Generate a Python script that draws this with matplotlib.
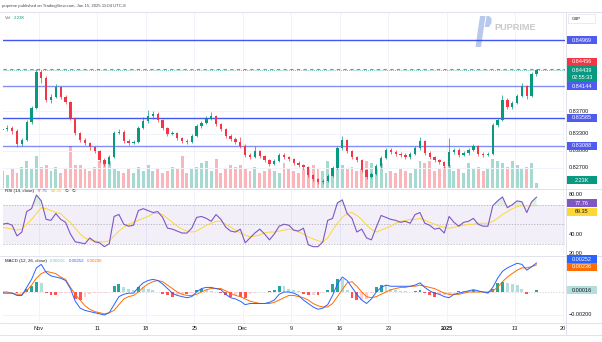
import matplotlib
matplotlib.use('Agg')
import matplotlib.pyplot as plt
import numpy as np
from matplotlib.patches import Polygon, Rectangle
from matplotlib.lines import Line2D
import matplotlib.transforms as mtransforms

plt.rcParams['font.family'] = ['Liberation Sans', 'DejaVu Sans']

W, H = 602, 342

# ---------------- data ----------------
first_open = 0.83368
close = [0.83385, 0.83403, 0.83350, 0.83119, 0.83190, 0.83510, 0.83759, 0.84400, 0.84293, 0.83901,
         0.83955, 0.84133, 0.83955, 0.83866, 0.83581, 0.83314, 0.83190, 0.83136, 0.83065, 0.82994,
         0.82834, 0.82763, 0.82887, 0.83314, 0.83332, 0.83172, 0.83136, 0.83154, 0.83403, 0.83528,
         0.83617, 0.83652, 0.83545, 0.83403, 0.83296, 0.83314, 0.83225, 0.83172, 0.83154, 0.83261,
         0.83439, 0.83492, 0.83563, 0.83617, 0.83474, 0.83385, 0.83261, 0.83207, 0.83154, 0.83083,
         0.82923, 0.82887, 0.82994, 0.82905, 0.82834, 0.82763, 0.82816, 0.82923, 0.82887, 0.82852,
         0.82780, 0.82745, 0.82709, 0.82567, 0.82496, 0.82442, 0.82460, 0.82549, 0.82691, 0.83047,
         0.83190, 0.82994, 0.82887, 0.82834, 0.82656, 0.82531, 0.82585, 0.82727, 0.82869, 0.83012,
         0.82976, 0.82941, 0.82923, 0.82887, 0.82941, 0.83047, 0.83172, 0.82958, 0.82887, 0.82834,
         0.82798, 0.82727, 0.82976, 0.83012, 0.82923, 0.82958, 0.83012, 0.83083, 0.82941, 0.82923,
         0.82941, 0.83457, 0.83545, 0.83901, 0.83777, 0.83848, 0.83972, 0.84151, 0.83972, 0.84364,
         0.84439]
high = [0.83430, 0.83450, 0.83440, 0.83380, 0.83230, 0.83540, 0.83800, 0.84456, 0.84430, 0.84320,
        0.84000, 0.84180, 0.84150, 0.83990, 0.83890, 0.83600, 0.83340, 0.83230, 0.83160, 0.83090,
        0.83020, 0.82870, 0.82920, 0.83350, 0.83380, 0.83360, 0.83200, 0.83190, 0.83430, 0.83600,
        0.83723, 0.83700, 0.83680, 0.83570, 0.83420, 0.83350, 0.83340, 0.83250, 0.83200, 0.83290,
        0.83470, 0.83530, 0.83620, 0.83680, 0.83640, 0.83500, 0.83410, 0.83290, 0.83240, 0.83250,
        0.83110, 0.82950, 0.83080, 0.83020, 0.82930, 0.82860, 0.82850, 0.82960, 0.82950, 0.82910,
        0.82870, 0.82810, 0.82770, 0.82730, 0.82590, 0.82520, 0.82490, 0.82580, 0.82720, 0.83080,
        0.83260, 0.83210, 0.83020, 0.82910, 0.82860, 0.82680, 0.82620, 0.82760, 0.82900, 0.83050,
        0.83040, 0.83010, 0.82980, 0.82950, 0.82970, 0.83080, 0.83250, 0.83190, 0.82990, 0.82910,
        0.82860, 0.82820, 0.83230, 0.83050, 0.83040, 0.82990, 0.83050, 0.83120, 0.83100, 0.82970,
        0.82970, 0.83490, 0.83580, 0.83990, 0.83930, 0.83880, 0.84010, 0.84210, 0.84170, 0.84400,
        0.84456]
low = [0.83330, 0.83350, 0.83300, 0.83060, 0.83090, 0.83170, 0.83480, 0.83740, 0.84200, 0.83860,
       0.83850, 0.83930, 0.83920, 0.83830, 0.83540, 0.83280, 0.83150, 0.83100, 0.83020, 0.82960,
       0.82800, 0.82720, 0.82740, 0.82870, 0.83290, 0.83140, 0.83100, 0.83110, 0.83130, 0.83390,
       0.83500, 0.83560, 0.83510, 0.83370, 0.83260, 0.83270, 0.83190, 0.83130, 0.83110, 0.83130,
       0.83240, 0.83410, 0.83470, 0.83540, 0.83440, 0.83350, 0.83230, 0.83170, 0.83120, 0.83050,
       0.82890, 0.82850, 0.82870, 0.82870, 0.82800, 0.82730, 0.82740, 0.82800, 0.82860, 0.82820,
       0.82750, 0.82710, 0.82680, 0.82530, 0.82460, 0.82400, 0.82410, 0.82440, 0.82530, 0.82670,
       0.83020, 0.82960, 0.82850, 0.82800, 0.82620, 0.82500, 0.82510, 0.82560, 0.82700, 0.82850,
       0.82940, 0.82910, 0.82890, 0.82860, 0.82860, 0.82920, 0.83020, 0.82930, 0.82850, 0.82800,
       0.82760, 0.82690, 0.82710, 0.82940, 0.82890, 0.82900, 0.82930, 0.82990, 0.82910, 0.82890,
       0.82900, 0.82920, 0.83420, 0.83520, 0.83740, 0.83740, 0.83830, 0.83950, 0.83920, 0.83950,
       0.84330]
volume_k = [8, 6, 9, 7, 10, 13, 9, 15, 10, 11,
            8, 10, 7, 9, 20, 11, 11, 9, 8, 10,
            13, 12, 13, 9, 8, 7, 9, 7, 10, 8,
            11, 8, 9, 7, 8, 10, 9, 15, 7, 9,
            10, 12, 13, 8, 14, 7, 9, 11, 10, 11,
            9, 8, 10, 7, 8, 9, 8, 7, 12, 9,
            8, 7, 9, 10, 11, 9, 8, 13, 9, 12,
            11, 9, 10, 8, 9, 13, 12, 9, 12, 7,
            8, 7, 9, 8, 7, 9, 13, 12, 13, 8,
            9, 10, 11, 8, 9, 7, 12, 9, 10, 8,
            9, 14, 13, 12, 10, 13, 11, 9, 10, 12,
            2.23]
rsi = [50, 51, 49, 38, 42, 63, 66, 80, 74, 55,
       54, 61, 55, 52, 40, 32, 31, 30, 36, 32,
       31, 27, 30, 58, 60, 50, 48, 49, 64, 66,
       64, 62, 63, 57, 46, 45, 43, 41, 41, 46,
       57, 58, 56, 53, 60, 55, 47, 43, 42, 45,
       31, 36, 41, 45, 40, 34, 40, 48, 50, 49,
       44, 43, 46, 29, 27, 27, 32, 54, 56, 72,
       75, 61, 56, 42, 45, 36, 34, 47, 59, 57,
       55, 54, 52, 53, 51, 60, 62, 51, 49, 45,
       46, 41, 58, 52, 48, 52, 53, 56, 50, 48,
       48, 69, 74, 78, 67, 70, 74, 73, 62, 73,
       77.76]
rsi_ma = [47, 46, 45, 44, 45, 50, 55, 61, 67, 66,
          64, 62, 61, 56, 52, 46, 40, 36, 34, 33,
          32, 32, 33, 38, 43, 47, 50, 52, 54, 56,
          58, 61, 61, 60, 56, 52, 48, 45, 43, 42,
          43, 46, 49, 51, 53, 53, 50, 47, 44, 41,
          39, 37, 38, 39, 41, 42, 42, 43, 44, 45,
          44, 42, 40, 37, 35, 33, 32, 36, 44, 51,
          57, 61, 62, 59, 55, 49, 45, 42, 44, 46,
          48, 51, 53, 54, 55, 55, 56, 54, 52, 50,
          48, 47, 46, 47, 48, 49, 50, 50, 51, 51,
          51, 53, 56, 60, 63, 66, 68, 69, 69, 69,
          69.35]
macd = [-0.0001, -0.0001, -0.0001, -0.0003, -0.0003, 0.0004, 0.0011, 0.0021, 0.0024, 0.0017,
        0.0014, 0.0013, 0.0012, 0.0010, 0.0003, -0.0008, -0.0014, -0.0016, -0.0017, -0.0018,
        -0.0019, -0.0020, -0.0018, -0.0011, -0.0004, -0.0002, -0.0001, -0.0001, 0.0004, 0.0008,
        0.0010, 0.0011, 0.0010, 0.0007, 0.0003, -0.0001, -0.0003, -0.0004, -0.0005, -0.0004,
        0.0000, 0.0003, 0.0004, 0.0004, 0.0003, 0.0002, -0.0002, -0.0005, -0.0006, -0.0008,
        -0.0011, -0.0010, -0.0010, -0.0010, -0.0010, -0.0009, -0.0007, -0.0002, 0.0000, 0.0000,
        -0.0001, -0.0003, -0.0007, -0.0010, -0.0013, -0.0015, -0.0014, -0.0011, -0.0003, 0.0007,
        0.0013, 0.0010, 0.0004, -0.0002, -0.0007, -0.0010, -0.0006, 0.0000, 0.0004, 0.0006,
        0.0005, 0.0005, 0.0005, 0.0005, 0.0005, 0.0006, 0.0008, 0.0004, 0.0001, -0.0001,
        -0.0002, -0.0004, -0.0005, -0.0002, -0.0001, 0.0000, 0.0001, 0.0002, 0.0001, 0.0000,
        -0.0001, 0.0004, 0.0012, 0.0018, 0.0021, 0.0023, 0.0025, 0.0024, 0.0019, 0.0022,
        0.00252]
signal = [0.0000, 0.0000, -0.0001, -0.0002, -0.0002, 0.0001, 0.0006, 0.0012, 0.0016, 0.0018,
          0.0017, 0.0016, 0.0013, 0.0011, 0.0004, -0.0002, -0.0007, -0.0012, -0.0015, -0.0017,
          -0.0018, -0.0019, -0.0018, -0.0016, -0.0011, -0.0006, -0.0004, -0.0003, 0.0000, 0.0004,
          0.0007, 0.0009, 0.0010, 0.0009, 0.0006, 0.0003, 0.0000, -0.0002, -0.0003, -0.0003,
          -0.0002, 0.0000, 0.0002, 0.0003, 0.0003, 0.0003, 0.0001, -0.0001, -0.0003, -0.0004,
          -0.0006, -0.0008, -0.0009, -0.0010, -0.0010, -0.0010, -0.0009, -0.0007, -0.0005, -0.0003,
          -0.0003, -0.0004, -0.0005, -0.0007, -0.0010, -0.0012, -0.0013, -0.0013, -0.0010, -0.0004,
          0.0002, 0.0008, 0.0009, 0.0005, 0.0000, -0.0004, -0.0005, -0.0004, -0.0002, 0.0000,
          0.0002, 0.0003, 0.0004, 0.0004, 0.0005, 0.0005, 0.0006, 0.0005, 0.0004, 0.0003,
          0.0001, -0.0001, -0.0002, -0.0002, -0.0002, -0.0001, 0.0000, 0.0000, 0.0000, 0.0000,
          0.0000, 0.0001, 0.0004, 0.0009, 0.0013, 0.0016, 0.0019, 0.0021, 0.0021, 0.0022,
          0.00236]

levels = [0.84969, 0.84144, 0.83585, 0.83088]
level_alpha = [0.9, 0.6, 0.9, 0.6]
session_high = 0.84456
last_price = 0.84439
countdown = '02:55:33'
price_ticks = [0.82700, 0.83000, 0.83300, 0.83700]
date_labels = ['Nov', '11', '18', '25', 'Dec', '9', '16', '23', '2025', '13', '20']
date_days = [4, 10, 15, 20, 25, 30, 35, 40, 46, 53, 58]   # trading-day index
rsi_ticks = [80, 40, 20]
macd_ticks = [-0.002]
header = 'puprime published on TradingView.com, Jan 15, 2025 11:04 UTC-8'

# ---------------- derived ----------------
n = len(close)
x = 0.25 + 0.5 * np.arange(n)
opn = np.array([first_open] + close[:-1])
cl = np.array(close)
hi = np.array(high)
lo = np.array(low)
up = cl >= opn
UP, DN = '#089981', '#F23645'
hist = np.array(macd) - np.array(signal)

PX_PER_DAY = 9.71

def rect(l, t, r, b):
    return [l / W, 1 - b / H, (r - l) / W, (b - t) / H]

fig = plt.figure(figsize=(W / 100, H / 100), dpi=100)
fig.patch.set_facecolor('white')
renderer = fig.canvas.get_renderer()

xlim = (3 / PX_PER_DAY, 565 / PX_PER_DAY)

ax_vol = fig.add_axes(rect(3, 12, 565, 188))
ax = fig.add_axes(rect(3, 12, 565, 188))
ax_rsi = fig.add_axes(rect(3, 189, 565, 255))
ax_macd = fig.add_axes(rect(3, 256, 565, 322))

for a in (ax_vol, ax, ax_rsi, ax_macd):
    a.set_xlim(*xlim)
    a.set_xticks([])
    a.set_yticks([])
    for s in a.spines.values():
        s.set_visible(False)
ax.patch.set_alpha(0)
ax_vol.set_zorder(0)
ax.set_zorder(1)

ax.set_ylim(0.84969 - 148 / 5620, 0.84969 + 28 / 5620)
ax_vol.set_ylim(0, 19 * 176 / 40)
ax_rsi.set_ylim(50 - 30.75 / 0.975, 50 + 35.25 / 0.975)
ax_macd.set_ylim(-30 / 11500, 36 / 11500)

GRID = '#f0f3fa'
for a in (ax_vol, ax_rsi, ax_macd):
    for d in date_days:
        a.axvline(d, color=GRID, lw=0.7, zorder=0)
for p in price_ticks:
    ax.axhline(p, color=GRID, lw=0.7, zorder=0)

# volume
vcol = [UP if u else DN for u in up]
ax_vol.bar(x, volume_k, width=0.3, color=vcol, alpha=0.36, linewidth=0, zorder=1)

# level lines
for lv, al in zip(levels, level_alpha):
    ax.axhline(lv, color='#2f44f0', lw=1.0, alpha=al, zorder=2)
ax.axhline(session_high, color=DN, lw=0.8, ls=(0, (3, 3)), alpha=0.8, zorder=2)
ax.axhline(last_price, color=UP, lw=0.6, ls=(0, (1, 1.5)), alpha=0.8, zorder=2)

# candles
ccol = np.where(up, UP, DN)
ax.vlines(x, lo, hi, colors=ccol, lw=0.5, zorder=3)
body_lo = np.minimum(opn, cl)
body_h = np.maximum(np.abs(cl - opn), 0.00004)
ax.bar(x, body_h, bottom=body_lo, width=0.24, color=ccol, linewidth=0, zorder=4)

# RSI
ax_rsi.axhspan(30, 70, color='#7E57C2', alpha=0.09, lw=0, zorder=0)
for lvl in (70, 50, 30):
    ax_rsi.axhline(lvl, color='#787B86', lw=0.5, ls=(0, (2, 2)), alpha=0.6, zorder=1)
r = np.array(rsi)
ax_rsi.fill_between(x, r, 70, where=r > 70, interpolate=True, color='#4CAF50', alpha=0.18, lw=0, zorder=1)
ax_rsi.plot(x, rsi_ma, color='#FDD835', lw=0.7, zorder=2)
ax_rsi.plot(x, rsi, color='#7E57C2', lw=0.8, zorder=3)

# MACD
hcol = []
for i, h in enumerate(hist):
    prev = hist[i - 1] if i > 0 else 0
    if h >= 0:
        hcol.append('#26A69A' if h > prev else '#B2DFDB')
    else:
        hcol.append('#FF5252' if h < prev else '#FFCDD2')
ax_macd.axhline(0, color='#787B86', lw=0.5, ls=(0, (2, 2)), alpha=0.4, zorder=0)
for t in macd_ticks:
    ax_macd.axhline(t, color=GRID, lw=0.7, zorder=0)
ax_macd.bar(x, hist, width=0.3, color=hcol, linewidth=0, zorder=1)
ax_macd.plot(x, signal, color='#FF6D00', lw=0.7, zorder=2)
ax_macd.plot(x, macd, color='#2962FF', lw=0.7, zorder=3)

# ---------------- frame lines ----------------
SEP = '#e0e3eb'
for yy in (11.5, 188.5, 255.5, 322.5, 334.5):
    fig.add_artist(Line2D([0, 1], [1 - yy / H, 1 - yy / H], color=SEP, lw=0.7, transform=fig.transFigure))
fig.add_artist(Line2D([565.5 / W, 565.5 / W], [1 - 11.5 / H, 1 - 334.5 / H], color=SEP, lw=0.7,
                      transform=fig.transFigure))

# ---------------- text ----------------
TXT = '#131722'
FS = 4.0
HFS = 3.2

def ypx(a, v):
    return H - a.transData.transform((xlim[0], v))[1]

def box(yc, text, fc, tc, h=8, zorder=3):
    fig.add_artist(Rectangle((567 / W, 1 - (yc + h / 2) / H), 30 / W, h / H, transform=fig.transFigure,
                             fc=fc, ec='none', zorder=zorder))
    fig.text(582 / W, 1 - yc / H, text, ha='center', va='center', fontsize=FS, color=tc, zorder=zorder + 1)

def tick(yc, text):
    fig.text(569 / W, 1 - yc / H, text, ha='left', va='center', fontsize=FS, color=TXT, zorder=1)

def seq_text(x0, yc, pieces, fs=HFS, gap=3.0):
    xx = x0
    for s, c in pieces:
        t = fig.text(xx / W, 1 - yc / H, s, fontsize=fs, color=c, va='center', ha='left')
        xx += t.get_window_extent(renderer).width + gap

fig.text(2 / W, 1 - 6.5 / H, header, fontsize=3.1, color='#4a4a4a', va='center', ha='left')
seq_text(5, 18, [('Vol', '#6a6d78'), (f'{volume_k[-1]:.2f}K', UP)])

# price scale
for p in price_ticks:
    tick(ypx(ax, p), f'{p:.5f}')
for lv in levels:
    box(ypx(ax, lv), f'{lv:.5f}', '#4F5BEF', 'white')
box(ypx(ax, session_high) - 7, f'{session_high:.5f}', DN, 'white')
yl = ypx(ax, last_price) + 4
fig.add_artist(Rectangle((567 / W, 1 - (yl + 8) / H), 30 / W, 16 / H, transform=fig.transFigure,
                         fc=UP, ec='none', zorder=3))
fig.text(582 / W, 1 - (yl - 3.5) / H, f'{last_price:.5f}', ha='center', va='center', fontsize=FS,
         color='white', zorder=4)
fig.text(582 / W, 1 - (yl + 3.5) / H, countdown, ha='center', va='center', fontsize=FS, color='white', zorder=4)
box(ypx(ax_vol, volume_k[-1]) - 3, f'{volume_k[-1]:.2f}K', UP, 'white')

# currency box
fig.add_artist(Rectangle((568 / W, 1 - 23 / H), 27 / W, 9 / H, transform=fig.transFigure,
                         fc='white', ec='#e0e3eb', lw=0.5, zorder=3))
fig.text(572 / W, 1 - 18.5 / H, 'GBP', fontsize=3.2, color=TXT, va='center', zorder=4)

# RSI scale
for t in rsi_ticks:
    tick(ypx(ax_rsi, t), f'{t:.2f}')
box(ypx(ax_rsi, rsi[-1]) + 6, f'{rsi[-1]:.2f}', '#7E57C2', 'white')
box(ypx(ax_rsi, rsi_ma[-1]) + 6.5, f'{rsi_ma[-1]:.2f}', '#FDD835', TXT)

# MACD scale
for t in macd_ticks:
    tick(ypx(ax_macd, t), f'{t:.5f}'.replace('-', '\u2212'))
box(ypx(ax_macd, macd[-1]) - 4, f'{macd[-1]:.5f}', '#2962FF', 'white')
box(ypx(ax_macd, signal[-1]) + 2, f'{signal[-1]:.5f}', '#FF6D00', 'white')
box(ypx(ax_macd, hist[-1]), f'{hist[-1]:.5f}', '#B2DFDB', TXT)

# indicator headers
seq_text(5, 191, [('RSI (14, close)', TXT), (f'{rsi[-1]:.2f}', '#7E57C2'),
                  (f'{rsi_ma[-1]:.2f}', '#E8C400'), ('\u2205', TXT), ('\u2205', TXT)])
seq_text(5, 260.7, [('MACD (12, 26, close)', TXT), (f'{hist[-1]:.5f}', '#6cc7bb'),
                    (f'{macd[-1]:.5f}', '#2962FF'), (f'{signal[-1]:.5f}', '#FF6D00')])

# date axis
tr = mtransforms.blended_transform_factory(ax_macd.transData, fig.transFigure)
for d, lab in zip(date_days, date_labels):
    ax_macd.text(d, 1 - 328 / H, lab, transform=tr, ha='center', va='center', fontsize=FS,
                 color=TXT, fontweight='bold' if lab == '2025' else 'normal', clip_on=False)

# watermark logo
LOGO = '#b9c9ee'
fig.add_artist(Polygon([(475.5 / W, 1 - 47 / H), (481 / W, 1 - 47 / H), (485.5 / W, 1 - 16 / H),
                        (480 / W, 1 - 16 / H)], closed=True, transform=fig.transFigure, fc=LOGO, ec='none',
                       zorder=0.5))
fig.add_artist(Polygon([(486.5 / W, 1 - 16 / H), (489 / W, 1 - 16 / H), (491.5 / W, 1 - 18 / H),
                        (491.5 / W, 1 - 23 / H), (489 / W, 1 - 27 / H), (484.8 / W, 1 - 27 / H)],
                       closed=True, transform=fig.transFigure, fc=LOGO, ec='none', zorder=0.5))
fig.text(515.5 / W, 1 - 27 / H, 'PUPRIME', fontsize=6.6, fontweight='bold', color='#c9c9c9',
         ha='center', va='center', zorder=0.5)

fig.savefig('out.png', dpi=100, facecolor='white')
